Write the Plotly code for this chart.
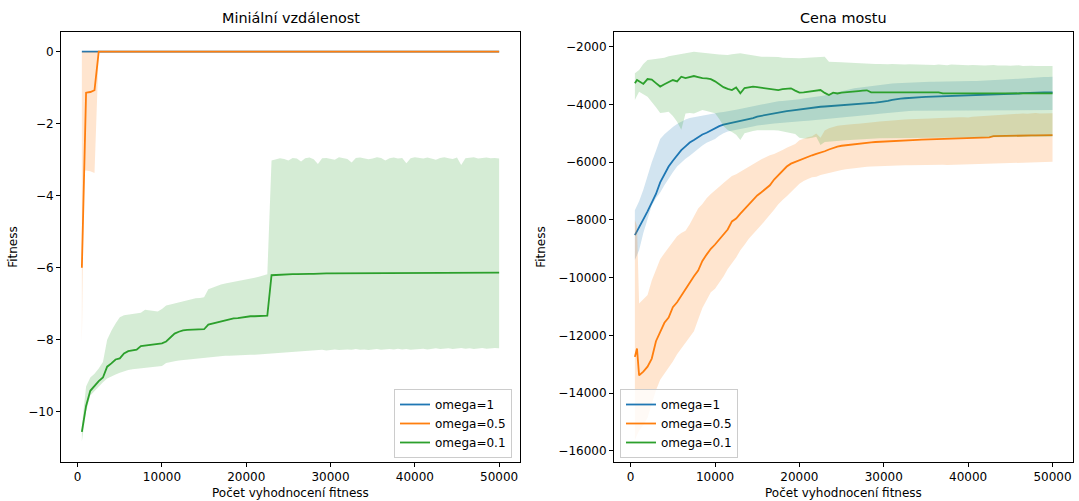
import plotly.graph_objects as go

# ---------------- data ----------------
X = [500, 750] + list(range(1000, 50001, 500))  # evaluation counts (101 points)

X_TICKS = [0, 10000, 20000, 30000, 40000, 50000]
X_TICKTEXT = ["0", "10000", "20000", "30000", "40000", "50000"]
L_Y_TICKS = [0, -2, -4, -6, -8, -10]
L_Y_TICKTEXT = ["0", "\u22122", "\u22124", "\u22126", "\u22128", "\u221210"]
R_Y_TICKS = [-2000, -4000, -6000, -8000, -10000, -12000, -14000, -16000]
R_Y_TICKTEXT = ["\u22122000", "\u22124000", "\u22126000", "\u22128000",
                "\u221210000", "\u221212000", "\u221214000", "\u221216000"]

SERIES_NAMES = ["omega=1", "omega=0.5", "omega=0.1"]

# ----- left panel: Miniální vzdálenost -----
L_BLUE_MEAN = [0.0] * 101
L_BLUE_LO = [0.0] * 101
L_BLUE_HI = [0.0] * 101

L_ORANGE_MEAN = [-6.0, -3.5, -1.14, -1.12, -1.07] + [0.0] * 96
L_ORANGE_LO = [-8.15, -3.3, -3.3, -3.32, -3.37] + [0.0] * 96
L_ORANGE_HI = [0.0] * 101

L_GREEN_MEAN = [
    -10.56, -10.20, -9.84, -9.42, -9.28, -9.15, -9.05, -8.75, -8.66, -8.55,
    -8.52, -8.38, -8.32, -8.30, -8.28, -8.18, -8.16, -8.15, -8.14, -8.12,
    -8.10, -8.05, -7.95, -7.83, -7.78, -7.74, -7.73, -7.72, -7.72, -7.72,
    -7.71, -7.58, -7.55, -7.52, -7.48, -7.45, -7.43, -7.41, -7.40, -7.38,
    -7.36, -7.35, -7.35, -7.34, -7.34, -7.33, -6.21, -6.20, -6.19, -6.19,
    -6.18, -6.18, -6.18, -6.17, -6.17, -6.17, -6.17, -6.16, -6.16, -6.16,
    -6.16, -6.16, -6.16, -6.16, -6.16, -6.16, -6.16, -6.16, -6.16, -6.16,
    -6.16, -6.16, -6.16, -6.16, -6.14, -6.14, -6.14, -6.14, -6.14, -6.14,
    -6.14, -6.14, -6.14, -6.14, -6.14, -6.14, -6.14, -6.14, -6.14, -6.14,
    -6.14, -6.14, -6.14, -6.14, -6.14, -6.14, -6.14, -6.14, -6.14, -6.14,
    -6.14]
L_GREEN_HI = [
    -10.40, -9.90, -9.30, -9.05, -8.95, -8.80, -8.62, -8.00, -7.75, -7.55,
    -7.38, -7.32, -7.30, -7.28, -7.27, -7.25, -7.17, -7.18, -7.20, -7.22,
    -7.15, -7.05, -7.02, -6.99, -6.98, -6.95, -6.92, -6.87, -6.85, -6.84,
    -6.82, -6.60, -6.55, -6.50, -6.47, -6.44, -6.42, -6.40, -6.37, -6.34,
    -6.32, -6.30, -6.28, -6.25, -6.22, -6.18, -3.02, -3.00, -2.96, -2.98,
    -3.02, -2.95, -2.97, -3.05, -2.96, -2.94, -2.99, -3.12, -2.96, -2.95,
    -2.97, -3.00, -2.93, -2.96, -2.98, -3.08, -2.95, -2.94, -2.96, -2.99,
    -2.97, -2.93, -2.95, -3.02, -2.96, -2.94, -2.97, -2.95, -3.10, -2.96,
    -2.93, -2.95, -2.97, -2.94, -2.96, -3.00, -2.95, -2.93, -2.96, -2.98,
    -2.94, -3.15, -2.96, -2.95, -2.93, -2.97, -2.95, -2.94, -2.96, -2.95,
    -2.97]
L_GREEN_LO = [
    -10.83, -10.45, -10.00, -9.55, -9.42, -9.30, -9.18, -9.08, -9.02, -8.97,
    -8.92, -8.87, -8.84, -8.82, -8.80, -8.79, -8.77, -8.76, -8.75, -8.74,
    -8.73, -8.65, -8.62, -8.60, -8.58, -8.56, -8.55, -8.53, -8.52, -8.51,
    -8.50, -8.49, -8.48, -8.47, -8.46, -8.45, -8.45, -8.44, -8.44, -8.43,
    -8.43, -8.42, -8.42, -8.41, -8.41, -8.40, -8.40, -8.38, -8.37, -8.36,
    -8.35, -8.34, -8.33, -8.33, -8.31, -8.30, -8.30, -8.29, -8.28, -8.30,
    -8.28, -8.27, -8.29, -8.28, -8.27, -8.28, -8.26, -8.28, -8.27, -8.29,
    -8.27, -8.26, -8.28, -8.27, -8.26, -8.27, -8.25, -8.27, -8.26, -8.28,
    -8.25, -8.26, -8.25, -8.27, -8.25, -8.24, -8.26, -8.25, -8.24, -8.26,
    -8.25, -8.23, -8.25, -8.24, -8.26, -8.24, -8.23, -8.25, -8.24, -8.23,
    -8.24]

# ----- right panel: Cena mostu -----
R_BLUE_MEAN = [
    -8525, -8400, -8250, -7980, -7700, -7420, -7100, -6700, -6400, -6150,
    -5950, -5760, -5580, -5450, -5320, -5230, -5120, -5040, -4980, -4900,
    -4810, -4750, -4700, -4670, -4630, -4600, -4560, -4530, -4500, -4470,
    -4420, -4390, -4360, -4330, -4300, -4280, -4250, -4230, -4210, -4190,
    -4180, -4160, -4120, -4100, -4090, -4080, -4070, -4060, -4055, -4040,
    -4030, -4020, -4010, -4000, -3995, -3990, -3985, -3960, -3940, -3920,
    -3910, -3880, -3840, -3810, -3795, -3785, -3770, -3760, -3750, -3745,
    -3740, -3735, -3730, -3725, -3720, -3718, -3715, -3712, -3710, -3708,
    -3705, -3700, -3695, -3690, -3685, -3680, -3675, -3670, -3660, -3650,
    -3640, -3630, -3620, -3610, -3600, -3595, -3590, -3588, -3585, -3582,
    -3580]
R_BLUE_HI = [
    -7660, -7500, -7350, -6950, -6450, -6000, -5600, -5200, -5030, -4900,
    -4780, -4680, -4600, -4520, -4470, -4440, -4410, -4385, -4365, -4340,
    -4300, -4280, -4260, -4245, -4210, -4180, -4150, -4130, -4090, -4060,
    -4030, -4000, -3970, -3940, -3910, -3890, -3880, -3870, -3855, -3845,
    -3820, -3790, -3770, -3750, -3740, -3730, -3690, -3650, -3615, -3570,
    -3530, -3490, -3460, -3440, -3420, -3400, -3386, -3360, -3340, -3320,
    -3300, -3285, -3275, -3270, -3260, -3250, -3240, -3230, -3225, -3220,
    -3215, -3213, -3213, -3213, -3212, -3210, -3210, -3208, -3205, -3200,
    -3195, -3190, -3185, -3180, -3170, -3160, -3154, -3150, -3145, -3140,
    -3130, -3120, -3110, -3100, -3085, -3070, -3060, -3055, -3050, -3045,
    -3040]
R_BLUE_LO = [
    -9390, -9220, -9050, -8450, -8000, -7500, -7250, -7050, -6800, -6560,
    -6350, -6150, -6000, -5880, -5780, -5670, -5550, -5420, -5330, -5260,
    -5200, -5080, -5000, -4940, -4900, -4870, -4850, -4820, -4790, -4760,
    -4730, -4710, -4690, -4680, -4660, -4650, -4630, -4620, -4600, -4590,
    -4580, -4570, -4560, -4550, -4545, -4540, -4520, -4500, -4482, -4465,
    -4450, -4430, -4410, -4395, -4385, -4375, -4367, -4350, -4335, -4320,
    -4300, -4285, -4270, -4255, -4245, -4235, -4225, -4215, -4210, -4205,
    -4200, -4195, -4193, -4195, -4193, -4192, -4194, -4193, -4192, -4193,
    -4195, -4193, -4192, -4193, -4194, -4193, -4192, -4193, -4192, -4194,
    -4193, -4192, -4193, -4191, -4193, -4192, -4194, -4193, -4192, -4193,
    -4193]

R_ORANGE_MEAN = [
    -12740, -12450, -13380, -13250, -13080, -12800, -12200, -11850, -11560, -11380,
    -11020, -10850, -10620, -10380, -10150, -9950, -9750, -9420, -9200, -9000,
    -8850, -8680, -8500, -8330, -8050, -7950, -7780, -7620, -7480, -7310,
    -7150, -7040, -6930, -6800, -6600, -6460, -6300, -6150, -6050, -5990,
    -5930, -5880, -5800, -5760, -5710, -5670, -5620, -5560, -5500, -5460,
    -5430, -5410, -5400, -5370, -5350, -5340, -5320, -5310, -5300, -5290,
    -5280, -5275, -5270, -5265, -5260, -5250, -5240, -5235, -5225, -5220,
    -5215, -5210, -5208, -5205, -5200, -5195, -5190, -5185, -5180, -5175,
    -5170, -5165, -5158, -5150, -5145, -5140, -5100, -5094, -5090, -5088,
    -5085, -5082, -5080, -5078, -5075, -5072, -5070, -5068, -5065, -5062,
    -5060]
R_ORANGE_HI = [
    -8005, -8200, -10890, -10750, -10600, -10100, -9700, -9360, -9150, -8960,
    -8780, -8560, -8450, -8370, -8150, -7850, -7600, -7450, -7250, -7100,
    -6990, -6850, -6720, -6600, -6480, -6420, -6330, -6250, -6150, -6060,
    -5970, -5900, -5830, -5760, -5720, -5660, -5580, -5500, -5430, -5370,
    -5240, -5180, -5140, -5100, -5010, -5150, -4900, -4820, -4770, -4740,
    -4720, -4700, -4690, -4680, -4670, -4660, -4655, -4630, -4610, -4590,
    -4575, -4560, -4550, -4545, -4535, -4525, -4515, -4505, -4500, -4495,
    -4490, -4485, -4482, -4480, -4470, -4478, -4460, -4455, -4447, -4440,
    -4450, -4430, -4420, -4410, -4400, -4380, -4367, -4370, -4355, -4340,
    -4350, -4330, -4320, -4310, -4325, -4308, -4300, -4315, -4305, -4310,
    -4308]
R_ORANGE_LO = [
    -15630, -15450, -15300, -15100, -14850, -14400, -13900, -13530, -13330, -13120,
    -12900, -12650, -12450, -12250, -12050, -11850, -11450, -11050, -10770, -10500,
    -10380, -10150, -9960, -9700, -9500, -9300, -9050, -8860, -8650, -8500,
    -8330, -8170, -7990, -7810, -7650, -7460, -7310, -7180, -7030, -6900,
    -6750, -6650, -6580, -6520, -6500, -6440, -6410, -6370, -6330, -6300,
    -6270, -6240, -6220, -6200, -6180, -6170, -6158, -6150, -6140, -6130,
    -6125, -6120, -6115, -6110, -6108, -6105, -6103, -6101, -6100, -6100,
    -6099, -6099, -6099, -6095, -6090, -6098, -6085, -6080, -6075, -6082,
    -6070, -6065, -6060, -6068, -6055, -6050, -6045, -6041, -6035, -6040,
    -6030, -6025, -6020, -6028, -6015, -6010, -6005, -6000, -5995, -5990,
    -5985]

R_GREEN_MEAN = [
    -3268, -3154, -3200, -3290, -3120, -3140, -3260, -3380, -3300, -3220,
    -3154, -3200, -3040, -3090, -3060, -3015, -3050, -3090, -3100, -3125,
    -3200, -3300, -3400, -3460, -3500, -3410, -3615, -3430, -3410, -3386,
    -3400, -3420, -3441, -3460, -3480, -3500, -3470, -3450, -3441, -3520,
    -3590, -3580, -3560, -3555, -3520, -3500, -3600, -3674, -3594, -3620,
    -3590, -3570, -3559, -3545, -3535, -3524, -3510, -3580, -3580, -3580,
    -3580, -3580, -3580, -3580, -3580, -3580, -3580, -3580, -3580, -3580,
    -3580, -3580, -3580, -3580, -3615, -3615, -3615, -3615, -3615, -3615,
    -3615, -3615, -3615, -3615, -3615, -3615, -3615, -3615, -3615, -3615,
    -3615, -3615, -3615, -3615, -3615, -3615, -3615, -3615, -3615, -3615,
    -3615]
R_GREEN_HI = [
    -2922, -2850, -2807, -2600, -2461, -2440, -2420, -2400, -2380, -2330,
    -2300, -2288, -2260, -2230, -2200, -2173, -2190, -2210, -2229, -2240,
    -2260, -2270, -2280, -2288, -2260, -2240, -2229, -2250, -2280, -2310,
    -2340, -2346, -2346, -2346, -2350, -2360, -2380, -2390, -2403, -2403,
    -2403, -2390, -2380, -2370, -2360, -2350, -2346, -2519, -2520, -2530,
    -2540, -2550, -2560, -2565, -2570, -2575, -2577, -2590, -2600, -2595,
    -2610, -2605, -2600, -2615, -2610, -2620, -2605, -2611, -2625, -2615,
    -2611, -2620, -2630, -2615, -2625, -2640, -2620, -2630, -2625, -2634,
    -2640, -2630, -2645, -2634, -2650, -2640, -2634, -2655, -2645, -2650,
    -2660, -2650, -2645, -2665, -2655, -2660, -2669, -2660, -2670, -2665,
    -2669]
R_GREEN_LO = [
    -3850, -3700, -3560, -3650, -3732, -3900, -4100, -4300, -4280, -4250,
    -4400, -4600, -4880, -4310, -4300, -4310, -4250, -4193, -4230, -4280,
    -4308, -4500, -4750, -4886, -4950, -5050, -5233, -5000, -4950, -4920,
    -4890, -4886, -4886, -4890, -4890, -4900, -4920, -4950, -4990, -5020,
    -5150, -5175, -5180, -5150, -5120, -5406, -5300, -5280, -5270, -5260,
    -5250, -5240, -5230, -5220, -5210, -5200, -5190, -5180, -5175, -5170,
    -5165, -5170, -5160, -5165, -5155, -5160, -5150, -5155, -5145, -5150,
    -5145, -5140, -5148, -5140, -5135, -5140, -5130, -5135, -5128, -5135,
    -5130, -5125, -5130, -5122, -5128, -5120, -5125, -5118, -5124, -5120,
    -5122, -5118, -5120, -5115, -5120, -5118, -5122, -5116, -5120, -5119,
    -5119]

# ---------------- figure ----------------
FONT = "DejaVu Sans"
TICK_SIZE = 12
TITLE_SIZE = 14.4
LINE_COLORS = ["#1f77b4", "#ff7f0e", "#2ca02c"]
FILL_COLORS = ["rgba(31,119,180,0.2)", "rgba(255,127,14,0.2)", "rgba(44,160,44,0.2)"]

fig = go.Figure()


def add_series(xa, ya, mean, lo, hi, idx, legend):
    fig.add_trace(go.Scatter(
        x=X, y=mean, mode="lines", name=SERIES_NAMES[idx],
        line=dict(color=LINE_COLORS[idx], width=1.8),
        xaxis=xa, yaxis=ya, legend=legend, hoverinfo="skip"))
    fig.add_trace(go.Scatter(
        x=X + X[::-1], y=hi + lo[::-1], mode="lines", fill="toself",
        fillcolor=FILL_COLORS[idx], line=dict(width=0, color="rgba(0,0,0,0)"),
        xaxis=xa, yaxis=ya, showlegend=False, hoverinfo="skip"))


add_series("x", "y", L_BLUE_MEAN, L_BLUE_LO, L_BLUE_HI, 0, "legend")
add_series("x", "y", L_ORANGE_MEAN, L_ORANGE_LO, L_ORANGE_HI, 1, "legend")
add_series("x", "y", L_GREEN_MEAN, L_GREEN_LO, L_GREEN_HI, 2, "legend")
add_series("x2", "y2", R_BLUE_MEAN, R_BLUE_LO, R_BLUE_HI, 0, "legend2")
add_series("x2", "y2", R_ORANGE_MEAN, R_ORANGE_LO, R_ORANGE_HI, 1, "legend2")
add_series("x2", "y2", R_GREEN_MEAN, R_GREEN_LO, R_GREEN_HI, 2, "legend2")

W, H = 1079, 501
L_LEFT, L_RIGHT = 61, 520
R_LEFT, R_RIGHT = 614, 1073.4
TOP, BOTTOM = 32, 461.7
ydom = [(H - BOTTOM) / H, (H - TOP) / H]

axis_common = dict(showline=True, mirror=True, linecolor="black", linewidth=1,
                   ticks="outside", ticklen=4, tickwidth=1, tickcolor="black",
                   showgrid=False, zeroline=False,
                   tickfont=dict(family=FONT, size=TICK_SIZE, color="black"))

legend_common = dict(bgcolor="rgba(255,255,255,0.8)", bordercolor="#cccccc", borderwidth=1,
                     font=dict(family=FONT, size=TICK_SIZE, color="black"),
                     yanchor="bottom", y=(H - 458) / H, tracegroupgap=0,
                     itemwidth=30)

fig.update_layout(
    width=W, height=H,
    margin=dict(l=0, r=0, t=0, b=0),
    paper_bgcolor="white", plot_bgcolor="white",
    font=dict(family=FONT, size=TICK_SIZE, color="black"),
    xaxis=dict(domain=[L_LEFT / W, L_RIGHT / W], range=[-1975, 52475], anchor="y",
               tickvals=X_TICKS, ticktext=X_TICKTEXT, **axis_common),
    yaxis=dict(domain=ydom, range=[-11.39, 0.547], anchor="x",
               tickvals=L_Y_TICKS, ticktext=L_Y_TICKTEXT, **axis_common),
    xaxis2=dict(domain=[R_LEFT / W, R_RIGHT / W], range=[-1975, 52475], anchor="y2",
                tickvals=X_TICKS, ticktext=X_TICKTEXT, **axis_common),
    yaxis2=dict(domain=ydom, range=[-16371, -1491], anchor="x2",
                tickvals=R_Y_TICKS, ticktext=R_Y_TICKTEXT, **axis_common),
    legend=dict(x=512 / W, xanchor="right", **legend_common),
    legend2=dict(x=620 / W, xanchor="left", **legend_common),
    showlegend=True,
)

ann = []
lc = (L_LEFT + L_RIGHT) / 2 / W
rc = (R_LEFT + R_RIGHT) / 2 / W
for cx, title in [(lc, "Miniální vzdálenost"), (rc, "Cena mostu")]:
    ann.append(dict(x=cx, y=(H - 18) / H, xref="paper", yref="paper", text=title,
                    showarrow=False, xanchor="center", yanchor="middle",
                    font=dict(family=FONT, size=TITLE_SIZE, color="black")))
    ann.append(dict(x=cx, y=(H - 493) / H, xref="paper", yref="paper",
                    text="Počet vyhodnocení fitness", showarrow=False,
                    xanchor="center", yanchor="middle",
                    font=dict(family=FONT, size=TICK_SIZE, color="black")))
for lx in [13, 541]:
    ann.append(dict(x=lx / W, y=(H - (TOP + BOTTOM) / 2) / H, xref="paper", yref="paper",
                    text="Fitness", showarrow=False, textangle=-90,
                    xanchor="center", yanchor="middle",
                    font=dict(family=FONT, size=TICK_SIZE, color="black")))
fig.update_layout(annotations=ann)

fig.write_html("out.html")
